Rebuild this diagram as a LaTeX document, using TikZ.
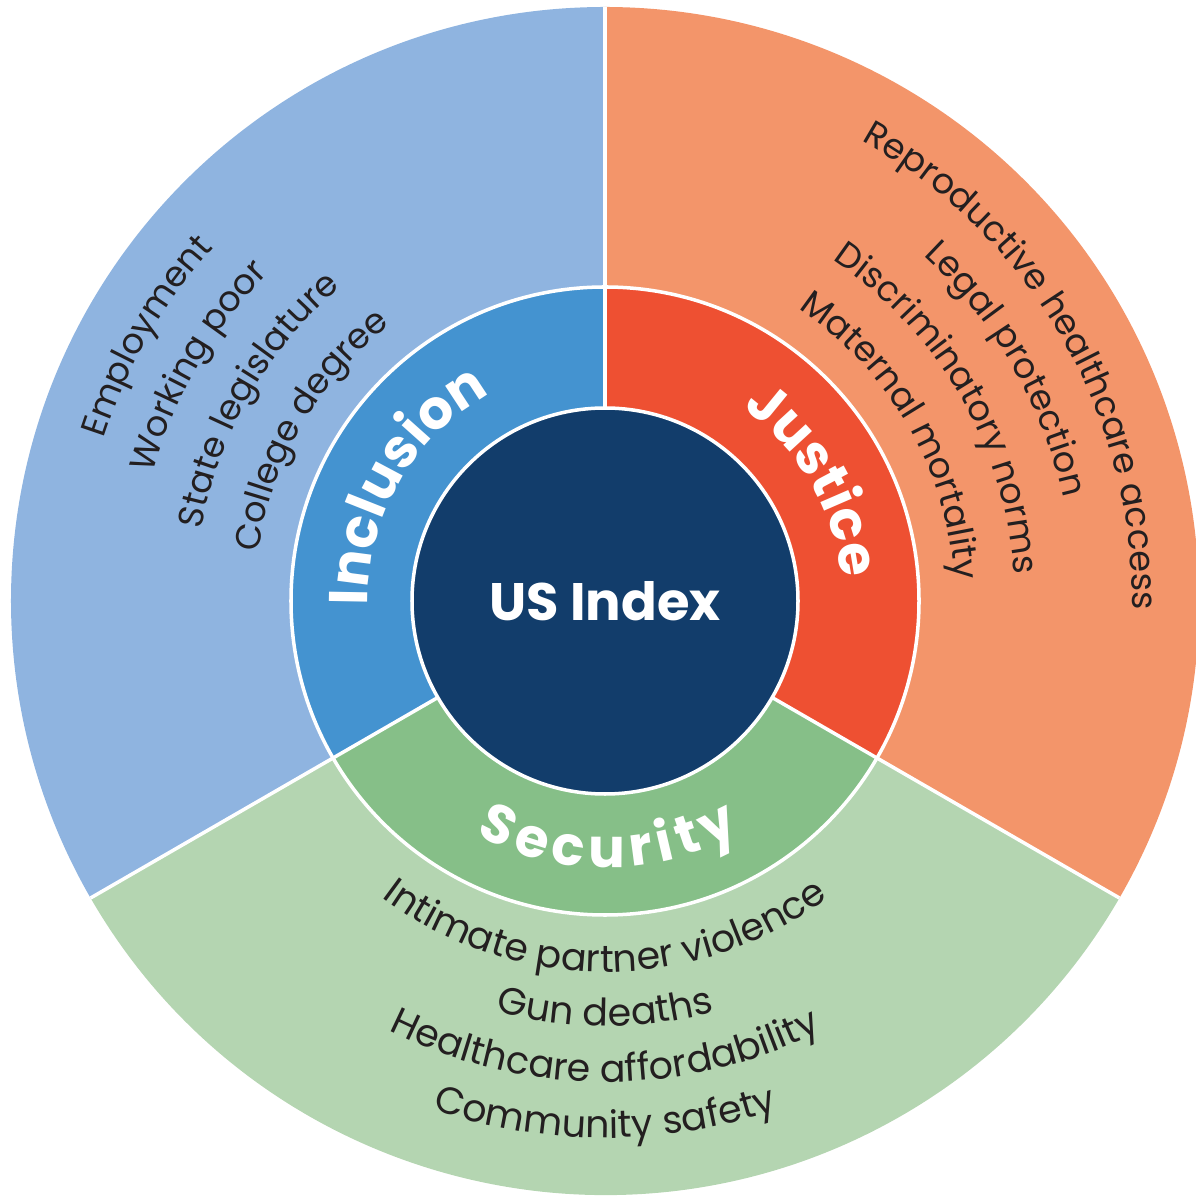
\documentclass[tikz,border=0pt]{standalone}
\usepackage{fontspec}
\setmainfont{Poppins}
\usetikzlibrary{decorations.text}

\definecolor{outblue}{HTML}{8FB4E0}
\definecolor{inblue}{HTML}{4493D0}
\definecolor{outorange}{HTML}{F3956A}
\definecolor{inred}{HTML}{EE5032}
\definecolor{outgreen}{HTML}{B4D5B1}
\definecolor{ingreen}{HTML}{86BF88}
\definecolor{navy}{HTML}{123D6B}
\definecolor{ink}{HTML}{231F20}

\newcommand{\itemfont}{\fontsize{10}{12}\selectfont}
\newcommand{\lowfont}{\fontsize{10.8}{12}\selectfont}
\newcommand{\ringfont}{\bfseries\fontsize{15.5}{18}\selectfont}

\begin{document}
\begin{tikzpicture}[
		sep/.style={white, line width=1pt},
		curved/.style={decorate, decoration={text along path, text align=center, text color=#1}},
		curved/.default=ink]
	\useasboundingbox (-6.05,-5.95) rectangle (5.90,6.01);
	% outer band and inner ring, one sector per pillar
	\foreach \a/\outer/\inner in {90/outblue/inblue, 330/outorange/inred, 210/outgreen/ingreen} {
		\fill[\outer] (0,0) -- (\a:5.94) arc[start angle=\a, end angle=\a+120, radius=5.94] -- cycle;
		\fill[\inner] (0,0) -- (\a:3.14) arc[start angle=\a, end angle=\a+120, radius=3.14] -- cycle;
	}
	\foreach \a in {90,210,330}
		\draw[sep] (0,0) -- (\a:5.94);
	\draw[sep] (0,0) circle[radius=3.14];
	\node[circle, fill=navy, draw=white, line width=1pt, minimum size=3.86cm, text=white,
		font=\bfseries\fontsize{15}{18}\selectfont] (hub) at (0,0) {US Index};

	% pillar names
	\path[curved=white, decoration={text={|\ringfont|Inclusion}}] (210:2.37) arc[start angle=210, end angle=90, radius=2.37];
	\path[curved=white, decoration={text={|\ringfont|Justice}}] (90:2.37) arc[start angle=90, end angle=-30, radius=2.37];
	\path[curved=white, decoration={text={|\ringfont\kern1.8pt|Security}}] (210:2.67) arc[start angle=210, end angle=330, radius=2.67];

	% indicators
	\foreach \rad/\txt in {5.27/Employment, 4.70/Working poor, 4.10/State legislature, 3.50/College degree}
		\path[curved, decoration={text/.expanded={|\noexpand\itemfont|\txt}}] (210:\rad) arc[start angle=210, end angle=90, radius=\rad];
	\foreach \rad/\txt in {5.27/Reproductive healthcare access, 4.70/Legal protection, 4.10/Discriminatory norms, 3.50/Maternal mortality}
		\path[curved, decoration={text/.expanded={|\noexpand\itemfont|\txt}}] (90:\rad) arc[start angle=90, end angle=-30, radius=\rad];
	\foreach \rad/\txt in {3.71/Intimate partner violence, 4.25/Gun deaths, 4.81/Healthcare affordability, 5.37/Community safety}
		\path[curved, decoration={text/.expanded={|\noexpand\lowfont|\txt}}] (210:\rad) arc[start angle=210, end angle=330, radius=\rad];
\end{tikzpicture}
\end{document}
